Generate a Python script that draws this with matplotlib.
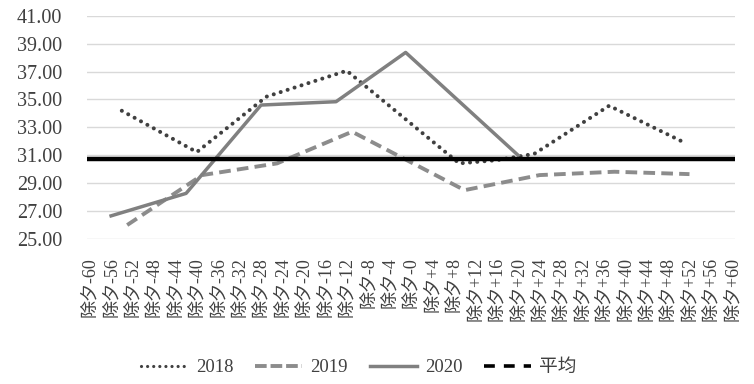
import matplotlib
matplotlib.use("Agg")
import matplotlib.pyplot as plt
from matplotlib.lines import Line2D
import numpy as np

# --- Daten (Tage relativ zu 除夕) ---
tick_days = list(range(-60, 61, 4))
tick_labels = [("除夕-%d" % abs(d)) if d <= 0 else ("除夕+%d" % d) for d in tick_days]

days_2018 = [-54, -40, -27, -12, 9, 16, 23, 37, 51]
vals_2018 = [34.19, 31.23, 35.2, 37.06, 30.42, 30.65, 31.1, 34.55, 31.92]

days_2019 = [-53, -39, -25, -11, 10, 24, 38, 52]
vals_2019 = [26.0, 29.58, 30.42, 32.69, 28.5, 29.58, 29.82, 29.65]

days_2020 = [-56, -42, -28, -14, -1, 20]
vals_2020 = [26.66, 28.27, 34.6, 34.84, 38.37, 31.0]

avg_value = 30.75

y_ticks = [25, 27, 29, 31, 33, 35, 37, 39, 41]
series_names = ["2018", "2019", "2020", "平均"]
# --- Ende Daten ---

num_font = "Liberation Serif"
cjk_fonts = ["Liberation Serif", "Noto Sans CJK SC"]

fig = plt.figure(figsize=(7.54, 3.84), dpi=100)
ax = fig.add_axes([0.1154, 0.3776, 0.9748 - 0.1154, 0.959 - 0.3776])

ax.plot(days_2018, vals_2018, color="#404040", lw=2.9,
        linestyle=(0, (0.01, 1.8)), dash_capstyle="round")
ax.plot(days_2019, vals_2019, color="#8c8c8c", lw=2.8,
        linestyle=(0, (3.0, 1.6)))
ax.plot(days_2020, vals_2020, color="#808080", lw=2.5)
ax.axhline(avg_value, color="black", lw=3.2)

ax.set_xlim(-60.5, 60.5)
ax.set_ylim(25, 41)
ax.set_yticks(y_ticks)
ax.set_yticklabels(["%.2f" % v for v in y_ticks], family=num_font, fontsize=14.5, color="#404040")
ax.set_xticks(tick_days)
ax.set_xticklabels(tick_labels, rotation=90, family=cjk_fonts, fontsize=13,
                   color="#404040", va="top", ha="center")
ax.tick_params(axis="y", length=0, pad=18)
ax.tick_params(axis="x", length=0, pad=13)

ax.grid(axis="y", color="#d9d9d9", lw=1)
ax.set_axisbelow(True)
for s in ax.spines.values():
    s.set_visible(False)

handles = [
    Line2D([], [], color="#404040", lw=2.3, linestyle=(0, (0.01, 1.9)), dash_capstyle="round"),
    Line2D([], [], color="#8c8c8c", lw=2.8, linestyle=(0, (3.0, 1.0))),
    Line2D([], [], color="#808080", lw=2.5),
    Line2D([], [], color="black", lw=2.6, linestyle=(0, (3.0, 2.5))),
]
leg = fig.legend(handles, series_names, loc="center", bbox_to_anchor=(0.476, 0.042),
                 ncol=4, frameon=False, handlelength=2.5, handletextpad=0.45,
                 columnspacing=1.15, prop={"family": cjk_fonts, "size": 13.5})
for t in leg.get_texts():
    t.set_color("#404040")

fig.savefig("out.png", dpi=100)
